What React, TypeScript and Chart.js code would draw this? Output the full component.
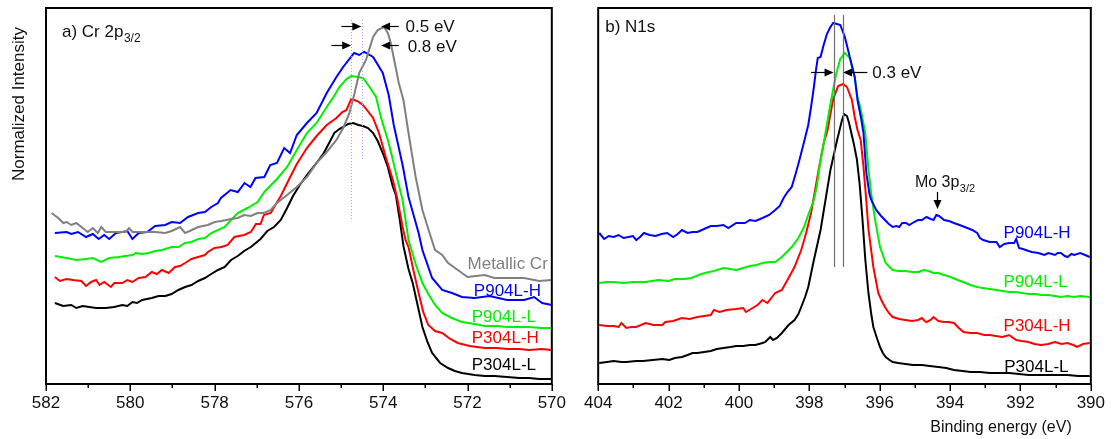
import React, { useEffect, useRef } from 'react';
import { Chart, registerables } from 'chart.js';

Chart.register(...registerables);

const FONT = "'Liberation Sans', Arial, Helvetica, sans-serif";

type Pt = [number, number];

// ---------------- Panel a) Cr 2p3/2 : [binding energy (eV), normalized intensity] ----------------
const crRange: [number, number] = [570, 582];
const crMajorTicks = [582, 580, 578, 576, 574, 572, 570];

const crMetallic: Pt[] = [
  [581.87, 171], [581.71, 166], [581.59, 161], [581.51, 162], [581.40, 159], [581.28, 161], [581.16, 157],
  [581.01, 152], [580.89, 156], [580.77, 151], [580.69, 157], [580.58, 152], [580.46, 152], [580.27, 152],
  [580.11, 152], [580.03, 156], [579.95, 152], [579.72, 152], [579.41, 152], [579.17, 151], [579.02, 153],
  [578.82, 157], [578.70, 151], [578.59, 153], [578.39, 157], [578.16, 159], [578.00, 162], [577.84, 163],
  [577.61, 165], [577.45, 166], [577.30, 169], [577.14, 168], [576.98, 171], [576.83, 171], [576.67, 174],
  [576.52, 181], [576.28, 189], [576.05, 197], [575.81, 207], [575.58, 221], [575.34, 232], [575.11, 244],
  [574.95, 256], [574.80, 271], [574.69, 289], [574.57, 311], [574.41, 324], [574.24, 347], [574.13, 354],
  [573.98, 357], [573.89, 351], [573.82, 341], [573.73, 322], [573.63, 301], [573.52, 284], [573.40, 251],
  [573.23, 207], [573.07, 174], [572.93, 155], [572.77, 134], [572.60, 129], [572.46, 121], [572.23, 114],
  [572.00, 107], [571.59, 109], [571.36, 106], [571.06, 106], [570.66, 106], [570.30, 103], [570.00, 104],
];

const crP904LH: Pt[] = [
  [581.79, 151], [581.51, 152], [581.40, 150], [581.24, 152], [581.05, 147], [580.89, 150], [580.75, 145],
  [580.62, 149], [580.50, 145], [580.34, 151], [580.07, 153], [579.95, 145], [579.80, 151], [579.60, 152],
  [579.41, 158], [579.17, 159], [579.02, 162], [578.82, 161], [578.63, 167], [578.39, 171], [578.23, 172],
  [578.08, 177], [577.92, 181], [577.85, 186], [577.62, 194], [577.45, 192], [577.29, 201], [577.15, 197],
  [577.03, 206], [576.82, 207], [576.68, 219], [576.52, 221], [576.35, 236], [576.21, 231], [576.05, 249],
  [575.81, 261], [575.58, 271], [575.34, 291], [575.11, 307], [574.95, 317], [574.69, 331], [574.57, 329],
  [574.45, 332], [574.24, 327], [574.01, 311], [573.87, 289], [573.75, 259], [573.54, 219], [573.40, 187],
  [573.28, 169], [573.16, 151], [573.07, 134], [572.84, 106], [572.60, 94], [572.37, 91], [572.13, 87],
  [571.83, 86], [571.48, 88], [571.06, 84], [570.66, 84], [570.42, 87], [570.23, 81], [570.00, 79],
];

const crP904LL: Pt[] = [
  [581.79, 128], [581.51, 126], [581.28, 124], [581.05, 125], [580.89, 126], [580.69, 122], [580.50, 126],
  [580.27, 127], [580.11, 128], [579.95, 129], [579.87, 131], [579.72, 130], [579.56, 131], [579.41, 133],
  [579.25, 134], [579.02, 137], [578.86, 137], [578.70, 141], [578.55, 142], [578.39, 145], [578.23, 146],
  [578.08, 151], [577.76, 157], [577.61, 164], [577.45, 171], [577.22, 176], [576.98, 182], [576.82, 192],
  [576.52, 205], [576.28, 217], [576.05, 234], [575.81, 251], [575.58, 261], [575.34, 277], [575.18, 287],
  [575.04, 297], [574.87, 305], [574.76, 308], [574.59, 307], [574.48, 306], [574.34, 298], [574.17, 287],
  [574.05, 266], [573.89, 244], [573.77, 224], [573.66, 204], [573.54, 184], [573.47, 164], [573.40, 144],
  [573.23, 120], [573.07, 101], [572.93, 90], [572.77, 79], [572.60, 71], [572.37, 66], [572.13, 62],
  [571.83, 60], [571.59, 58], [571.30, 58], [571.06, 57], [570.77, 57], [570.54, 57], [570.25, 56], [570.00, 56],
];

const crP304LH: Pt[] = [
  [581.79, 107], [581.67, 103], [581.51, 105], [581.36, 104], [581.16, 103], [581.05, 98], [580.93, 102],
  [580.81, 104], [580.73, 99], [580.62, 102], [580.46, 97], [580.38, 101], [580.19, 101], [580.07, 104],
  [579.95, 102], [579.80, 106], [579.64, 107], [579.49, 112], [579.37, 110], [579.25, 114], [579.09, 111],
  [578.94, 117], [578.82, 118], [578.70, 121], [578.55, 125], [578.39, 127], [578.23, 129], [578.16, 132],
  [578.00, 136], [577.84, 137], [577.69, 139], [577.53, 147], [577.30, 149], [577.14, 152], [577.02, 160],
  [576.91, 160], [576.83, 169], [576.67, 171], [576.43, 188], [576.23, 205], [576.05, 220], [575.81, 236],
  [575.58, 248], [575.34, 259], [575.11, 266], [574.97, 272], [574.87, 274], [574.76, 285], [574.62, 283],
  [574.48, 279], [574.24, 266], [574.10, 251], [573.94, 227], [573.77, 204], [573.66, 184], [573.54, 157],
  [573.47, 144], [573.40, 137], [573.28, 113], [573.16, 91], [573.05, 72], [572.93, 59], [572.77, 53],
  [572.60, 51], [572.41, 45], [572.23, 41], [571.95, 38], [571.59, 36], [571.30, 36], [571.06, 35],
  [570.77, 35], [570.54, 34], [570.25, 35], [570.00, 34],
];

const crP304LL: Pt[] = [
  [581.79, 81], [581.59, 78], [581.40, 79], [581.28, 76], [581.13, 78], [580.97, 77], [580.81, 76],
  [580.58, 76], [580.38, 77], [580.19, 79], [580.07, 78], [579.95, 82], [579.84, 81], [579.72, 84],
  [579.49, 86], [579.33, 88], [579.17, 88], [579.02, 90], [578.86, 94], [578.70, 97], [578.55, 99],
  [578.39, 103], [578.23, 106], [578.08, 110], [577.92, 114], [577.76, 117], [577.61, 124], [577.45, 128],
  [577.30, 133], [577.14, 137], [576.91, 145], [576.75, 153], [576.59, 157], [576.43, 164], [576.28, 176],
  [576.14, 188], [575.98, 199], [575.81, 209], [575.58, 221], [575.41, 231], [575.27, 242], [575.16, 251],
  [575.04, 255], [574.95, 257], [574.83, 260], [574.71, 261], [574.59, 259], [574.48, 258], [574.36, 256],
  [574.24, 251], [574.13, 243], [574.01, 231], [573.89, 217], [573.77, 197], [573.70, 189], [573.61, 165],
  [573.52, 138], [573.40, 115], [573.30, 101], [573.19, 80], [573.07, 57], [572.95, 42], [572.84, 31],
  [572.65, 21], [572.46, 16], [572.30, 13], [572.13, 11], [571.83, 9], [571.59, 8], [571.36, 8],
  [571.06, 7], [570.77, 6], [570.54, 6], [570.30, 5], [570.00, 5],
];

// ---------------- Panel b) N1s ----------------
const nRange: [number, number] = [390, 404];
const nMajorTicks = [404, 402, 400, 398, 396, 394, 392, 390];

const nP904LH: Pt[] = [
  [403.97, 151], [403.83, 145], [403.70, 148], [403.56, 147], [403.42, 149], [403.28, 146], [403.14, 147],
  [403.01, 148], [402.92, 144], [402.81, 147], [402.70, 151], [402.54, 149], [402.37, 148], [402.20, 150],
  [402.04, 151], [401.87, 147], [401.74, 150], [401.62, 154], [401.46, 151], [401.32, 152], [401.18, 152],
  [400.99, 155], [400.80, 158], [400.63, 158], [400.44, 159], [400.30, 156], [400.08, 161], [399.83, 161],
  [399.69, 164], [399.53, 163], [399.33, 166], [399.14, 169], [398.97, 174], [398.84, 178], [398.73, 186],
  [398.62, 192], [398.50, 197], [398.39, 210], [398.28, 224], [398.15, 242], [398.03, 259], [397.95, 277],
  [397.87, 297], [397.81, 314], [397.76, 326], [397.68, 327], [397.60, 338], [397.50, 350], [397.40, 357],
  [397.32, 361], [397.21, 360], [397.12, 359], [396.99, 347], [396.85, 327], [396.71, 307], [396.63, 284],
  [396.52, 264], [396.46, 251], [396.38, 211], [396.29, 190], [396.24, 184], [396.10, 174], [395.96, 168],
  [395.85, 164], [395.74, 160], [395.63, 157], [395.52, 158], [395.44, 157], [395.36, 161], [395.25, 161],
  [395.16, 159], [395.02, 162], [394.91, 164], [394.80, 164], [394.67, 167], [394.55, 165], [394.47, 164],
  [394.39, 169], [394.31, 168], [394.17, 164], [394.03, 163], [393.89, 161], [393.73, 159], [393.51, 156],
  [393.37, 154], [393.23, 151], [393.15, 146], [393.06, 144], [392.87, 142], [392.68, 142], [392.59, 137],
  [392.46, 140], [392.32, 141], [392.18, 141], [392.12, 145], [392.04, 136], [391.93, 135], [391.85, 134],
  [391.68, 132], [391.49, 131], [391.32, 129], [391.21, 131], [391.10, 130], [391.02, 129], [390.94, 131],
  [390.85, 131], [390.74, 128], [390.66, 127], [390.55, 130], [390.47, 129], [390.30, 131], [390.16, 129],
  [390.03, 127],
];

const nP904LL: Pt[] = [
  [403.97, 101], [403.75, 102], [403.56, 102], [403.28, 101], [403.01, 102], [402.65, 102], [402.29, 104],
  [402.00, 103], [401.82, 105], [401.55, 105], [401.35, 106], [401.07, 110], [400.85, 112], [400.71, 113],
  [400.44, 116], [400.25, 115], [400.08, 114], [399.88, 116], [399.69, 118], [399.50, 119], [399.33, 121],
  [399.14, 122], [398.97, 122], [398.78, 127], [398.64, 132], [398.50, 137], [398.31, 146], [398.15, 157],
  [398.01, 171], [397.87, 184], [397.79, 197], [397.68, 224], [397.57, 245], [397.45, 270], [397.32, 295],
  [397.23, 311], [397.12, 325], [396.99, 331], [396.85, 326], [396.71, 307], [396.63, 287], [396.54, 275],
  [396.41, 251], [396.32, 215], [396.24, 190], [396.13, 164], [395.99, 137], [395.83, 121], [395.72, 117],
  [395.63, 114], [395.47, 113], [395.27, 113], [395.08, 112], [394.89, 112], [394.75, 114], [394.61, 113],
  [394.47, 111], [394.33, 111], [394.17, 109], [393.98, 107], [393.78, 104], [393.62, 102], [393.42, 99],
  [393.23, 97], [393.06, 96], [392.87, 95], [392.68, 94], [392.51, 93], [392.32, 92], [392.12, 92],
  [391.96, 91], [391.77, 90], [391.57, 90], [391.41, 89], [391.21, 89], [391.02, 88], [390.85, 87],
  [390.66, 88], [390.47, 87], [390.30, 88], [390.03, 87],
];

const nP304LH: Pt[] = [
  [403.97, 59], [403.75, 58], [403.56, 58], [403.42, 57], [403.34, 61], [403.20, 56], [403.06, 57],
  [402.92, 57], [402.65, 61], [402.43, 59], [402.18, 59], [402.09, 62], [401.87, 63], [401.62, 66],
  [401.40, 65], [401.18, 67], [400.99, 68], [400.80, 69], [400.71, 74], [400.55, 72], [400.35, 74],
  [400.08, 75], [399.88, 76], [399.80, 72], [399.61, 76], [399.47, 79], [399.33, 84], [399.19, 81],
  [398.97, 91], [398.78, 94], [398.59, 106], [398.42, 117], [398.23, 134], [398.09, 151], [397.95, 171],
  [397.87, 187], [397.73, 215], [397.59, 241], [397.48, 254], [397.40, 270], [397.32, 285], [397.18, 298],
  [397.04, 300], [396.93, 297], [396.79, 284], [396.71, 267], [396.63, 254], [396.54, 244], [396.46, 217],
  [396.38, 183], [396.32, 155], [396.18, 117], [396.04, 91], [395.94, 83], [395.85, 77], [395.74, 71],
  [395.63, 67], [395.44, 65], [395.27, 64], [395.08, 63], [394.91, 64], [394.80, 66], [394.72, 63],
  [394.67, 62], [394.55, 64], [394.47, 67], [394.33, 63], [394.17, 62], [394.03, 62], [393.89, 61],
  [393.75, 56], [393.62, 52], [393.42, 51], [393.23, 51], [393.03, 49], [392.87, 49], [392.70, 48],
  [392.51, 47], [392.32, 49], [392.12, 44], [391.96, 43], [391.77, 42], [391.60, 40], [391.41, 39],
  [391.21, 40], [391.02, 42], [390.83, 40], [390.66, 41], [390.50, 39], [390.39, 37], [390.22, 40],
  [390.03, 41],
];

const nP304LL: Pt[] = [
  [403.97, 21], [403.75, 22], [403.56, 23], [403.34, 22], [403.20, 22], [402.92, 23], [402.73, 23],
  [402.45, 24], [402.18, 25], [401.98, 24], [401.82, 26], [401.62, 27], [401.46, 29], [401.32, 31],
  [401.18, 31], [400.99, 32], [400.80, 33], [400.63, 35], [400.44, 36], [400.24, 37], [400.08, 38],
  [399.88, 38], [399.69, 39], [399.53, 39], [399.33, 41], [399.25, 42], [399.11, 47], [399.03, 44],
  [398.92, 46], [398.78, 51], [398.59, 59], [398.42, 64], [398.31, 70], [398.23, 77], [398.12, 87],
  [398.03, 97], [397.87, 124], [397.68, 154], [397.54, 184], [397.40, 214], [397.21, 244], [397.07, 264],
  [397.01, 270], [396.93, 268], [396.87, 261], [396.74, 241], [396.65, 225], [396.57, 200], [396.49, 165],
  [396.41, 125], [396.32, 91], [396.24, 70], [396.18, 57], [396.07, 45], [395.99, 37], [395.91, 31],
  [395.83, 27], [395.72, 24], [395.63, 22], [395.47, 21], [395.27, 20], [395.05, 19], [394.80, 19],
  [394.58, 18], [394.33, 17], [394.11, 16], [393.89, 14], [393.64, 13], [393.42, 12], [393.15, 12],
  [392.87, 11], [392.59, 11], [392.32, 11], [392.04, 10], [391.77, 9], [391.49, 9], [391.21, 9],
  [390.94, 9], [390.66, 9], [390.36, 8], [390.03, 8],
];

// series names and colours
const crNames = ['Metallic Cr', 'P904L-H', 'P904L-L', 'P304L-H', 'P304L-L'];
const crColors = ['#808080', '#0000ff', '#00f000', '#ff0000', '#000000'];
const crData = [crMetallic, crP904LH, crP904LL, crP304LH, crP304LL];
// series-name label anchors [energy, intensity]
const crNameAnchors: Pt[] = [[572.0, 120], [571.85, 93], [571.9, 67], [571.9, 46], [571.9, 19]];

const nNames = ['P904L-H', 'P904L-L', 'P304L-H', 'P304L-L'];
const nColors = ['#0000ff', '#00f000', '#ff0000', '#000000'];
const nData = [nP904LH, nP904LL, nP304LH, nP304LL];
const nNameAnchors: Pt[] = [[392.48, 151], [392.48, 102], [392.48, 58], [392.46, 17]];

// annotations (energy / intensity units)
const crGuides = [
  { e: 574.76, y0: 164, y1: 364, color: '#a8a8a8' },
  { e: 574.50, y0: 224, y1: 364, color: '#a8acff' },
];
const crArrows = [
  { y: 358, from: 574.99, to: 574.52 },
  { y: 358, from: 573.63, to: 574.05 },
  { y: 339, from: 575.23, to: 574.76 },
  { y: 339, from: 573.63, to: 574.05 },
];
const crArrowTexts = [
  { text: '0.5 eV', e: 573.47, y: 357 },
  { text: '0.8 eV', e: 573.42, y: 337 },
];

const nGuides = [
  { e: 397.31, y0: 117, y1: 369, color: '#707070' },
  { e: 397.04, y0: 117, y1: 369, color: '#707070' },
];
const nArrows = [
  { y: 312, from: 397.95, to: 397.31 },
  { y: 312, from: 396.35, to: 397.04 },
];
const nArrowTexts = [{ text: '0.3 eV', e: 396.21, y: 311 }];
const nMoArrow = { e: 394.36, from: 192, to: 175 };
const nMoText = { e: 395.0, y: 197 };

function drawArrowH(ctx: CanvasRenderingContext2D, x1: number, x2: number, y: number) {
  const dir = x2 > x1 ? 1 : -1;
  ctx.beginPath();
  ctx.moveTo(x1, y);
  ctx.lineTo(x2 - dir * 6, y);
  ctx.stroke();
  ctx.beginPath();
  ctx.moveTo(x2, y);
  ctx.lineTo(x2 - dir * 9, y - 4);
  ctx.lineTo(x2 - dir * 9, y + 4);
  ctx.closePath();
  ctx.fill();
}

function drawArrowV(ctx: CanvasRenderingContext2D, x: number, y1: number, y2: number) {
  const dir = y2 > y1 ? 1 : -1;
  ctx.beginPath();
  ctx.moveTo(x, y1);
  ctx.lineTo(x, y2 - dir * 6);
  ctx.stroke();
  ctx.beginPath();
  ctx.moveTo(x, y2);
  ctx.lineTo(x - 4, y2 - dir * 9);
  ctx.lineTo(x + 4, y2 - dir * 9);
  ctx.closePath();
  ctx.fill();
}

function drawSubText(ctx: CanvasRenderingContext2D, main: string, sub: string, x: number, y: number, size: number) {
  ctx.textAlign = 'left';
  ctx.textBaseline = 'alphabetic';
  ctx.font = `${size}px ${FONT}`;
  ctx.fillText(main, x, y);
  const w = ctx.measureText(main).width;
  ctx.font = `${Math.round(size * 0.7)}px ${FONT}`;
  ctx.fillText(sub, x + w + 0.5, y + 5);
}

function framePlugin(majors: number[], extra: (chart: any) => void) {
  return {
    id: 'frameAndAnnotations',
    afterDraw(chart: any) {
      const { ctx, chartArea: ca, scales } = chart;
      const xs = scales.x;
      ctx.save();
      ctx.strokeStyle = '#000';
      ctx.lineWidth = 2;
      ctx.strokeRect(ca.left, ca.top, ca.right - ca.left, ca.bottom - ca.top);
      ctx.lineWidth = 1.5;
      for (const t of xs.ticks) {
        const px = Math.round(xs.getPixelForValue(t.value)) + 0.25;
        const len = majors.includes(t.value) ? 7 : 4;
        ctx.beginPath();
        ctx.moveTo(px, ca.bottom);
        ctx.lineTo(px, ca.bottom + len);
        ctx.stroke();
      }
      ctx.restore();
      ctx.save();
      extra(chart);
      ctx.restore();
    },
  };
}

function makeConfig(
  range: [number, number],
  majors: number[],
  names: string[],
  colors: string[],
  data: Pt[][],
  padLeft: number,
  padRight: number,
  extra: (chart: any) => void
): any {
  return {
    type: 'line',
    data: {
      datasets: data.map((pts, i) => ({
        label: names[i],
        data: pts.map(([x, y]) => ({ x, y })),
        borderColor: colors[i],
        backgroundColor: colors[i],
        borderWidth: 2,
        pointRadius: 0,
        tension: 0,
        fill: false,
      })),
    },
    options: {
      animation: false,
      responsive: false,
      devicePixelRatio: 1,
      layout: { padding: { left: padLeft, right: padRight, top: 8, bottom: 0 } },
      plugins: { legend: { display: false }, tooltip: { enabled: false } },
      scales: {
        x: {
          type: 'linear',
          min: range[0],
          max: range[1],
          reverse: true,
          afterFit: (s: any) => {
            s.height = 55;
          },
          grid: { display: false, drawTicks: false },
          border: { display: false },
          ticks: {
            stepSize: 1,
            autoSkip: false,
            maxRotation: 0,
            minRotation: 0,
            padding: 9,
            color: '#111',
            font: { family: FONT, size: 17 },
            callback: (v: any) => (majors.includes(Number(v)) ? String(v) : ''),
          },
        },
        y: { display: false, min: 0, max: 376 },
      },
    },
    plugins: [framePlugin(majors, extra)],
  };
}

function crExtra(chart: any) {
  const { ctx, chartArea: ca, scales } = chart;
  const xs = scales.x;
  const ys = scales.y;
  // dotted guides
  ctx.lineWidth = 1;
  ctx.setLineDash([1, 2]);
  for (const g of crGuides) {
    const px = Math.round(xs.getPixelForValue(g.e)) + 0.5;
    ctx.strokeStyle = g.color;
    ctx.beginPath();
    ctx.moveTo(px, ys.getPixelForValue(g.y1));
    ctx.lineTo(px, ys.getPixelForValue(g.y0));
    ctx.stroke();
  }
  ctx.setLineDash([]);
  ctx.strokeStyle = '#000';
  ctx.fillStyle = '#000';
  ctx.lineWidth = 1.2;
  for (const a of crArrows) {
    drawArrowH(ctx, xs.getPixelForValue(a.from), xs.getPixelForValue(a.to), Math.round(ys.getPixelForValue(a.y)) + 0.5);
  }
  ctx.fillStyle = '#111';
  ctx.font = `17px ${FONT}`;
  ctx.textAlign = 'left';
  ctx.textBaseline = 'middle';
  for (const t of crArrowTexts) {
    ctx.fillText(t.text, xs.getPixelForValue(t.e), ys.getPixelForValue(t.y));
  }
  // series names
  ctx.font = `17px ${FONT}`;
  crNames.forEach((n, i) => {
    ctx.fillStyle = crColors[i];
    ctx.fillText(n, xs.getPixelForValue(crNameAnchors[i][0]), ys.getPixelForValue(crNameAnchors[i][1]));
  });
  // panel title
  ctx.fillStyle = '#111';
  drawSubText(ctx, 'a) Cr 2p', '3/2', ca.left + 16, ca.top + 29, 17);
  // y title
  ctx.save();
  ctx.translate(19, 104);
  ctx.rotate(-Math.PI / 2);
  ctx.textAlign = 'center';
  ctx.textBaseline = 'middle';
  ctx.font = `17px ${FONT}`;
  ctx.fillStyle = '#111';
  ctx.fillText('Normalized Intensity', 0, 0);
  ctx.restore();
}

function nExtra(chart: any) {
  const { ctx, chartArea: ca, scales } = chart;
  const xs = scales.x;
  const ys = scales.y;
  ctx.lineWidth = 1.2;
  for (const g of nGuides) {
    const px = Math.round(xs.getPixelForValue(g.e)) + 0.5;
    ctx.strokeStyle = g.color;
    ctx.beginPath();
    ctx.moveTo(px, ys.getPixelForValue(g.y1));
    ctx.lineTo(px, ys.getPixelForValue(g.y0));
    ctx.stroke();
  }
  ctx.strokeStyle = '#000';
  ctx.fillStyle = '#000';
  ctx.lineWidth = 1.2;
  for (const a of nArrows) {
    drawArrowH(ctx, xs.getPixelForValue(a.from), xs.getPixelForValue(a.to), Math.round(ys.getPixelForValue(a.y)) + 0.5);
  }
  drawArrowV(
    ctx,
    Math.round(xs.getPixelForValue(nMoArrow.e)) + 0.5,
    ys.getPixelForValue(nMoArrow.from),
    ys.getPixelForValue(nMoArrow.to)
  );
  ctx.fillStyle = '#111';
  ctx.font = `17px ${FONT}`;
  ctx.textAlign = 'left';
  ctx.textBaseline = 'middle';
  for (const t of nArrowTexts) {
    ctx.fillText(t.text, xs.getPixelForValue(t.e), ys.getPixelForValue(t.y));
  }
  drawSubText(ctx, 'Mo 3p', '3/2', xs.getPixelForValue(nMoText.e), ys.getPixelForValue(nMoText.y), 16);
  ctx.textBaseline = 'middle';
  ctx.font = `17px ${FONT}`;
  nNames.forEach((n, i) => {
    ctx.fillStyle = nColors[i];
    ctx.fillText(n, xs.getPixelForValue(nNameAnchors[i][0]), ys.getPixelForValue(nNameAnchors[i][1]));
  });
  ctx.fillStyle = '#111';
  ctx.textAlign = 'left';
  ctx.textBaseline = 'alphabetic';
  ctx.font = `17px ${FONT}`;
  ctx.fillText('b) N1s', ca.left + 7, ca.top + 24);
  ctx.textAlign = 'center';
  ctx.textBaseline = 'middle';
  ctx.font = `16px ${FONT}`;
  ctx.fillText('Binding energy (eV)', 426, 428);
}

export default function App() {
  const leftRef = useRef<HTMLCanvasElement>(null);
  const rightRef = useRef<HTMLCanvasElement>(null);

  useEffect(() => {
    const c1 = new Chart(
      leftRef.current as HTMLCanvasElement,
      makeConfig(crRange, crMajorTicks, crNames, crColors, crData, 46, 17, crExtra)
    );
    const c2 = new Chart(
      rightRef.current as HTMLCanvasElement,
      makeConfig(nRange, nMajorTicks, nNames, nColors, nData, 16, 16, nExtra)
    );
    return () => {
      c1.destroy();
      c2.destroy();
    };
  }, []);

  return (
    <div style={{ position: 'absolute', left: 0, top: 0, width: 1114, height: 439, background: '#fff' }}>
      <canvas
        ref={leftRef}
        width={575}
        height={439}
        style={{ position: 'absolute', left: 0, top: 0, width: 575, height: 439 }}
      />
      <canvas
        ref={rightRef}
        width={539}
        height={439}
        style={{ position: 'absolute', left: 575, top: 0, width: 539, height: 439 }}
      />
    </div>
  );
}
